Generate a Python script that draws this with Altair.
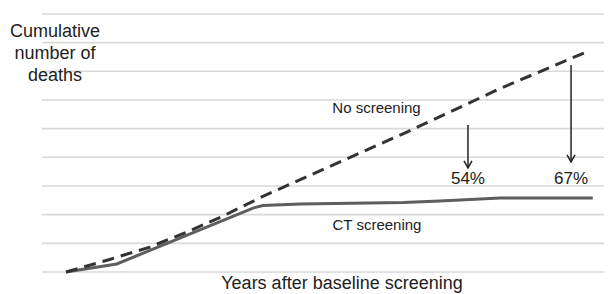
import altair as alt
import pandas as pd

# ---- data ----
years_no_screening = [0, 0.81, 1.62, 2.34, 3.03, 3.78, 6.58, 8.38, 10.0]
deaths_no_screening = [0, 0.42, 0.87, 1.40, 1.95, 2.62, 4.88, 6.40, 7.64]

years_ct = [0, 0.98, 3.61, 3.80, 4.52, 6.51, 7.22, 7.80, 8.38, 10.17]
deaths_ct = [0, 0.28, 2.23, 2.32, 2.37, 2.42, 2.48, 2.53, 2.58, 2.58]

grid_levels = list(range(10))

arrow_years = [7.76, 9.75]
arrow_top = [5.13, 7.22]
arrow_bottom = [3.63, 3.84]
arrow_labels = ["54%", "67%"]

series_names = ["No screening", "CT screening"]
y_title_lines = ["Cumulative", "number of", "deaths"]
x_title = "Years after baseline screening"

# ---- layout ----
W, H = 596, 286
FONT = "Liberation Sans"
TXT = "#222222"

x_scale = alt.Scale(domain=[-1.12, 10.386], nice=False, zero=False)
y_scale = alt.Scale(domain=[-0.767, 9.208], nice=False, zero=False)

no_df = pd.DataFrame({"year": years_no_screening, "deaths": deaths_no_screening})
ct_df = pd.DataFrame({"year": years_ct, "deaths": deaths_ct})
grid_df = pd.DataFrame({"level": grid_levels})
arrow_df = pd.DataFrame({"year": arrow_years, "top": arrow_top,
                         "bottom": arrow_bottom, "label": arrow_labels})

X = alt.X("year:Q", scale=x_scale, axis=None)
Y = alt.Y("deaths:Q", scale=y_scale, axis=None)

grid = alt.Chart(grid_df).mark_rule(color="#d9d9d9", strokeWidth=1.6).encode(
    y=alt.Y("level:Q", scale=y_scale, axis=None),
    x=alt.value(34), x2=alt.value(W),
)

ct_line = alt.Chart(ct_df).mark_line(color="#5e5e5e", strokeWidth=3).encode(x=X, y=Y)
no_line = alt.Chart(no_df).mark_line(color="#333333", strokeWidth=3,
                                     strokeDash=[12, 7]).encode(x=X, y=Y)

shaft = alt.Chart(arrow_df).mark_rule(color=TXT, strokeWidth=1.5).encode(
    x=X,
    y=alt.Y("top:Q", scale=y_scale, axis=None),
    y2="bottom:Q",
)
head = alt.Chart(arrow_df).mark_point(
    shape="M-1,-1.75L0,0L1,-1.75", filled=False, size=64,
    strokeWidth=1.5, color=TXT, opacity=1,
).encode(x=X, y=alt.Y("bottom:Q", scale=y_scale, axis=None))

pct = alt.Chart(arrow_df).mark_text(
    font=FONT, fontSize=17, color=TXT, baseline="alphabetic", align="center"
).encode(x=X, y=alt.value(176), text="label:N")

base = alt.Chart(pd.DataFrame({"a": [0]}))
no_lab = base.mark_text(font=FONT, fontSize=15, color=TXT, baseline="alphabetic",
                        align="center").encode(
    x=alt.value(368.5), y=alt.value(105), text=alt.value(series_names[0]))
ct_lab = base.mark_text(font=FONT, fontSize=15, color=TXT, baseline="alphabetic",
                        align="center").encode(
    x=alt.value(369), y=alt.value(222), text=alt.value(series_names[1]))

y_titles = [
    base.mark_text(font=FONT, fontSize=18, color=TXT, baseline="alphabetic",
                   align="center").encode(
        x=alt.value(47), y=alt.value(29 + 22 * i), text=alt.value(t))
    for i, t in enumerate(y_title_lines)
]
x_lab = base.mark_text(font=FONT, fontSize=18, color=TXT, baseline="alphabetic",
                       align="center").encode(
    x=alt.value(334), y=alt.value(281), text=alt.value(x_title))

chart = alt.layer(grid, ct_line, no_line, shaft, head, pct, no_lab, ct_lab,
                  *y_titles, x_lab).properties(
    width=W, height=H, padding=0,
    autosize=alt.AutoSizeParams(type="none"),
).configure_view(stroke=None)

chart.save("out.html", embed_options={"renderer": "svg", "actions": False})
